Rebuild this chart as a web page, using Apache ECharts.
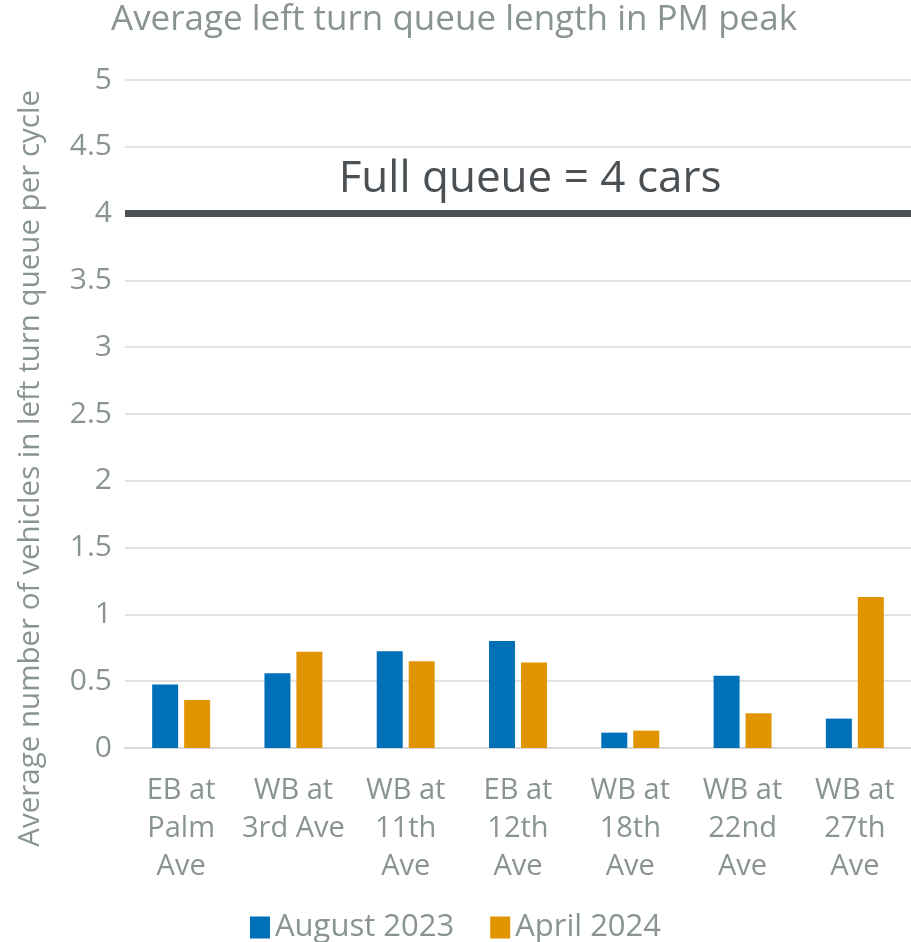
<!DOCTYPE html>
<html>
<head>
<meta charset="utf-8">
<script src="https://cdn.jsdelivr.net/npm/echarts@6/dist/echarts.min.js"></script>
<style>
  html, body { margin: 0; padding: 0; background: #fff; }
  #main { width: 911px; height: 942px; }
</style>
</head>
<body>
<div id="main"></div>
<script>
var categories = ['EB at\nPalm\nAve', 'WB at\n3rd Ave', 'WB at\n11th\nAve', 'EB at\n12th\nAve', 'WB at\n18th\nAve', 'WB at\n22nd\nAve', 'WB at\n27th\nAve'];
var august2023 = [0.475, 0.56, 0.725, 0.80, 0.115, 0.54, 0.22];
var april2024 = [0.36, 0.72, 0.65, 0.64, 0.13, 0.26, 1.13];
var fullQueue = 4;

var chart = echarts.init(document.getElementById('main'));
var textColor = '#8a9393';
var font = 'Open Sans';

var option = {
  color: ['#0070b9', '#e09500'],
  title: {
    text: 'Average left turn queue length in PM peak',
    left: 106,
    top: -2,
    textStyle: { color: textColor, fontFamily: font, fontSize: 35, fontWeight: 'normal' }
  },
  legend: {
    data: ['August 2023', 'April 2024'],
    left: 'center',
    bottom: -6,
    itemWidth: 20,
    itemHeight: 22,
    itemGap: 36,
    icon: 'rect',
    textStyle: { color: textColor, fontFamily: font, fontSize: 31 }
  },
  grid: {
    left: 125,
    right: 0,
    top: 80,
    bottom: 194
  },
  graphic: [{
    type: 'text',
    left: 16,
    top: 90,
    rotation: Math.PI / 2,
    style: {
      text: 'Average number of vehicles in left turn queue per cycle',
      fill: textColor,
      font: '29.5px "Open Sans"'
    }
  }],
  xAxis: {
    type: 'category',
    data: categories,
    axisLine: { lineStyle: { color: '#d9d9d9', width: 2 } },
    axisTick: { show: false },
    axisLabel: {
      color: textColor,
      fontFamily: font,
      fontSize: 29,
      lineHeight: 38,
      margin: 24,
      interval: 0
    }
  },
  yAxis: {
    type: 'value',
    min: 0,
    max: 5,
    interval: 0.5,
    axisLine: { show: false },
    axisTick: { show: false },
    splitLine: { lineStyle: { color: '#d9d9d9', width: 1.5 } },
    axisLabel: {
      color: textColor,
      fontFamily: font,
      fontSize: 30,
      margin: 13
    }
  },
  series: [
    {
      name: 'August 2023',
      type: 'bar',
      data: august2023,
      barWidth: 26,
      barGap: '23%',
      markLine: {
        silent: true,
        symbol: 'none',
        data: [{ yAxis: fullQueue }],
        lineStyle: { color: '#4b5054', width: 7, type: 'solid' },
        label: {
          show: true,
          position: 'middle',
          formatter: 'Full queue = 4 cars',
          color: '#4b5054',
          fontFamily: font,
          fontSize: 44,
          distance: 12,
          offset: [12, 0]
        }
      }
    },
    {
      name: 'April 2024',
      type: 'bar',
      data: april2024,
      barWidth: 26,
      barGap: '23%'
    }
  ]
};

chart.setOption(option);
</script>
</body>
</html>
